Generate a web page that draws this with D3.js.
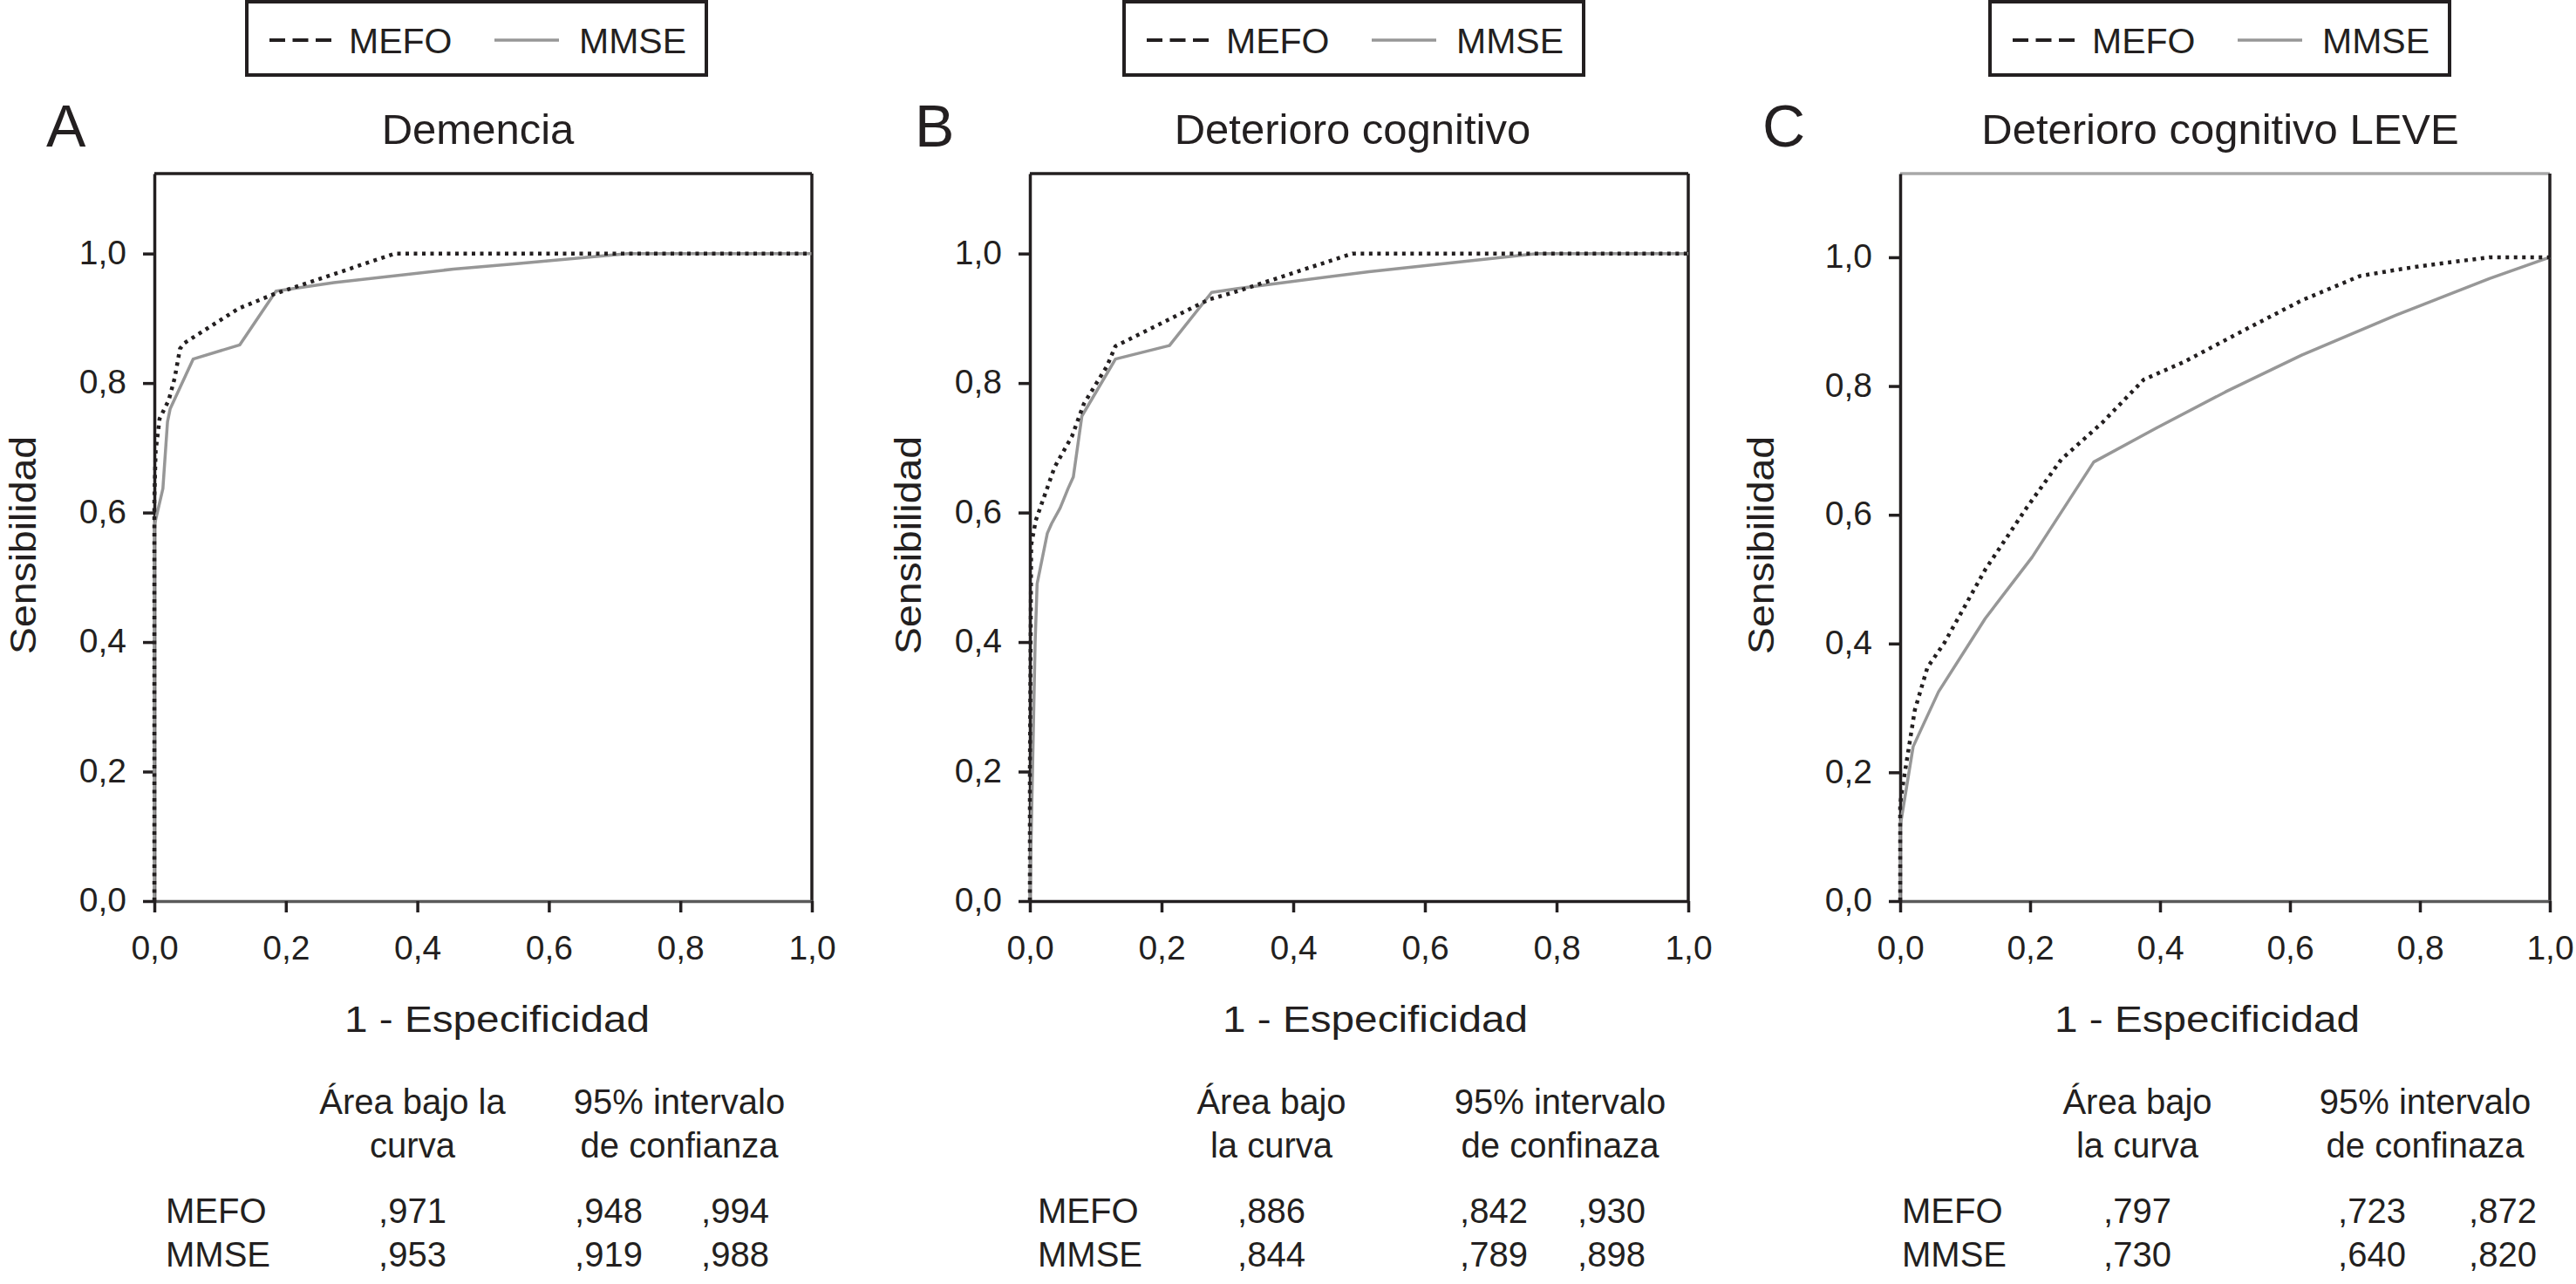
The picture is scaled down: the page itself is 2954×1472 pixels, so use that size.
<!DOCTYPE html>
<html><head><meta charset="utf-8">
<script src="https://cdn.jsdelivr.net/npm/d3@7"></script>
<style>body{margin:0;background:#fff}svg{display:block}text{font-family:"Liberation Sans",Arial,Helvetica,sans-serif;fill:#231f20}</style>
</head><body><svg id="chart" width="2954" height="1472"></svg>
<script>
// ---------- DATA ----------
const panelLetters = ["A", "B", "C"];
const panelTitles = ["Demencia", "Deterioro cognitivo", "Deterioro cognitivo LEVE"];
const seriesNames = ["MEFO", "MMSE"];
const tickValues = [0, 0.2, 0.4, 0.6, 0.8, 1.0];
const tickLabels = ["0,0", "0,2", "0,4", "0,6", "0,8", "1,0"];
const xAxisTitle = "1 - Especificidad";
const yAxisTitle = "Sensibilidad";

// ROC curves: [1 - especificidad, sensibilidad]
const demenciaMEFO = [[0,0],[0,0.62],[0.002,0.695],[0.008,0.745],[0.022,0.774],[0.031,0.808],[0.039,0.853],[0.046,0.862],[0.128,0.915],[0.181,0.937],[0.234,0.955],[0.366,1.0],[1,1]];
const demenciaMMSE = [[0,0],[0,0.58],[0.013,0.637],[0.02,0.74],[0.024,0.76],[0.059,0.837],[0.130,0.859],[0.185,0.942],[0.273,0.955],[0.455,0.976],[0.548,0.984],[0.72,1.0],[1,1]];
const deterioroMEFO = [[0,0],[0,0.2],[0.002,0.55],[0.009,0.588],[0.0375,0.67],[0.064,0.718],[0.082,0.768],[0.117,0.826],[0.130,0.857],[0.272,0.929],[0.316,0.942],[0.49,1.0],[1,1]];
const deterioroMMSE = [[0,0],[0.004,0.2],[0.008,0.4],[0.011,0.49],[0.0265,0.568],[0.033,0.583],[0.046,0.607],[0.058,0.637],[0.066,0.655],[0.079,0.749],[0.130,0.837],[0.212,0.858],[0.276,0.940],[0.316,0.946],[0.515,0.972],[0.77,1.0],[1,1]];
const leveMEFO = [[0,0],[0,0.15],[0.003,0.173],[0.0226,0.297],[0.042,0.363],[0.068,0.401],[0.131,0.515],[0.194,0.610],[0.248,0.686],[0.311,0.743],[0.375,0.810],[0.438,0.838],[0.528,0.886],[0.618,0.933],[0.708,0.971],[0.767,0.981],[0.799,0.986],[0.907,1.0],[1,1]];
const leveMMSE = [[0,0],[0,0.116],[0.02,0.24],[0.059,0.325],[0.131,0.439],[0.203,0.534],[0.298,0.682],[0.393,0.734],[0.501,0.791],[0.618,0.848],[0.763,0.910],[0.907,0.967],[1,1]];

// tables
const tableHeaderArea = [["Área bajo la", "curva"], ["Área bajo", "la curva"], ["Área bajo", "la curva"]];
const tableHeaderCI = [["95% intervalo", "de confianza"], ["95% intervalo", "de confinaza"], ["95% intervalo", "de confinaza"]];
const aucMEFO = [",971", ",886", ",797"];
const aucMMSE = [",953", ",844", ",730"];
const ciLowMEFO = [",948", ",842", ",723"];
const ciHighMEFO = [",994", ",930", ",872"];
const ciLowMMSE = [",919", ",789", ",640"];
const ciHighMMSE = [",988", ",898", ",820"];

// ---------- LAYOUT ----------
const curves = [[demenciaMEFO, demenciaMMSE], [deterioroMEFO, deterioroMMSE], [leveMEFO, leveMMSE]];
const layout = [
  {x0:177, x1:931, yTop:1.1235, letterX:53, titleX:548, yLabX:41, xLabX:570, legX:283, rowX:190, c1:473, c2:779, lo:698, hi:843, bottomCol:"#5a5a5a", topCol:"#231f20"},
  {x0:1181, x1:1936, yTop:1.1235, letterX:1049, titleX:1551, yLabX:1056, xLabX:1577, legX:1289, rowX:1190, c1:1458, c2:1789, lo:1713, hi:1848, bottomCol:"#231f20", topCol:"#231f20"},
  {x0:2179, x1:2924, yTop:1.13, letterX:2021, titleX:2546, yLabX:2034, xLabX:2531, legX:2282, rowX:2181, c1:2451, c2:2781, lo:2720, hi:2870, bottomCol:"#5a5a5a", topCol:"#a8a8a8"}
];
const plotTop = 199, plotBottom = 1033;
const dark = "#231f20", gray = "#979797";

const svg = d3.select("#chart");
svg.append("rect").attr("width", 2954).attr("height", 1472).attr("fill", "#fff");

layout.forEach((L, i) => {
  const x = d3.scaleLinear().domain([0, 1]).range([L.x0, L.x1]);
  const y = d3.scaleLinear().domain([0, L.yTop]).range([plotBottom, plotTop]);
  const g = svg.append("g");

  // frame top & right
  g.append("line").attr("x1", L.x0).attr("x2", L.x1).attr("y1", plotTop).attr("y2", plotTop)
    .attr("stroke", L.topCol).attr("stroke-width", 3.5);
  g.append("line").attr("x1", L.x1).attr("x2", L.x1).attr("y1", plotTop).attr("y2", plotBottom)
    .attr("stroke", dark).attr("stroke-width", 3.5);

  // axes
  const fmt = d => tickLabels[tickValues.indexOf(d)];
  const ax = g.append("g").attr("transform", `translate(0,${plotBottom})`)
    .call(d3.axisBottom(x).tickValues(tickValues).tickFormat(fmt).tickSize(13).tickSizeOuter(0));
  ax.select(".domain").attr("stroke", L.bottomCol).attr("stroke-width", 3.5);
  ax.selectAll(".tick line").attr("stroke", dark).attr("stroke-width", 3.5);
  ax.selectAll(".tick text").attr("y", 67).attr("dy", 0).attr("font-size", 39)
    .attr("font-family", "Liberation Sans, Arial, sans-serif").attr("fill", dark);

  const ay = g.append("g").attr("transform", `translate(${L.x0},0)`)
    .call(d3.axisLeft(y).tickValues(tickValues).tickFormat(fmt).tickSize(13).tickSizeOuter(0));
  ay.select(".domain").attr("stroke", dark).attr("stroke-width", 3.5);
  ay.selectAll(".tick line").attr("stroke", dark).attr("stroke-width", 3.5);
  ay.selectAll(".tick text").attr("x", -32).attr("dy", "0.3em").attr("font-size", 39)
    .attr("font-family", "Liberation Sans, Arial, sans-serif").attr("fill", dark);
  svg.selectAll(".domain").attr("d", function(){ return d3.select(this).attr("d"); });

  // curves
  const line = d3.line().x(d => x(d[0])).y(d => y(d[1]));
  g.append("path").datum(curves[i][1]).attr("d", line).attr("fill", "none")
    .attr("stroke", gray).attr("stroke-width", 3.5).attr("stroke-linejoin", "round");
  g.append("path").datum(curves[i][0]).attr("d", line).attr("fill", "none")
    .attr("stroke", dark).attr("stroke-width", 4.5).attr("stroke-dasharray", "4,5.5");

  // letter & title
  g.append("text").attr("x", L.letterX).attr("y", 168).attr("font-size", 68).text(panelLetters[i]);
  g.append("text").attr("x", L.titleX).attr("y", 165).attr("font-size", 49)
    .attr("text-anchor", "middle").text(panelTitles[i]);

  // axis titles
  g.append("text").attr("transform", `translate(${L.yLabX},625) rotate(-90)`)
    .attr("text-anchor", "middle").attr("font-size", 42)
    .attr("textLength", 250).attr("lengthAdjust", "spacingAndGlyphs").text(yAxisTitle);
  g.append("text").attr("x", L.xLabX).attr("y", 1183).attr("text-anchor", "middle").attr("font-size", 42)
    .attr("textLength", 350).attr("lengthAdjust", "spacingAndGlyphs").text(xAxisTitle);

  // legend
  const lg = g.append("g").attr("transform", `translate(${L.legX},0)`);
  lg.append("rect").attr("x", 0).attr("y", 2).attr("width", 527).attr("height", 84)
    .attr("fill", "#fff").attr("stroke", dark).attr("stroke-width", 4);
  lg.append("line").attr("x1", 26).attr("x2", 97).attr("y1", 46).attr("y2", 46)
    .attr("stroke", dark).attr("stroke-width", 4).attr("stroke-dasharray", "18,8.5");
  lg.append("text").attr("x", 117).attr("y", 61).attr("font-size", 41).text(seriesNames[0]);
  lg.append("line").attr("x1", 284).attr("x2", 358).attr("y1", 46).attr("y2", 46)
    .attr("stroke", gray).attr("stroke-width", 3.5);
  lg.append("text").attr("x", 381).attr("y", 61).attr("font-size", 41).text(seriesNames[1]);

  // table
  const t = g.append("g").attr("font-size", 40);
  tableHeaderArea[i].forEach((s, k) => t.append("text").attr("x", L.c1).attr("y", 1277 + 50 * k)
    .attr("text-anchor", "middle").text(s));
  tableHeaderCI[i].forEach((s, k) => t.append("text").attr("x", L.c2).attr("y", 1277 + 50 * k)
    .attr("text-anchor", "middle").text(s));
  const rows = [[seriesNames[0], aucMEFO[i], ciLowMEFO[i], ciHighMEFO[i]],
                [seriesNames[1], aucMMSE[i], ciLowMMSE[i], ciHighMMSE[i]]];
  rows.forEach((r, k) => {
    const yy = 1402 + 50 * k;
    t.append("text").attr("x", L.rowX).attr("y", yy).text(r[0]);
    t.append("text").attr("x", L.c1).attr("y", yy).attr("text-anchor", "middle").text(r[1]);
    t.append("text").attr("x", L.lo).attr("y", yy).attr("text-anchor", "middle").text(r[2]);
    t.append("text").attr("x", L.hi).attr("y", yy).attr("text-anchor", "middle").text(r[3]);
  });
});
</script></body></html>
